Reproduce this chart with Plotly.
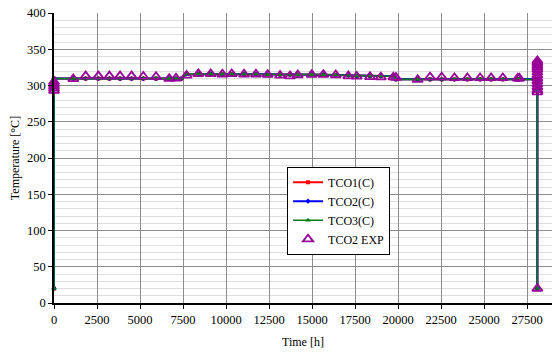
import plotly.graph_objects as go

# Simulated channel outlet temperatures (same for TCO1/TCO2/TCO3)
sim_time = [0, 0, 1120, 1840, 2580, 3220, 3840, 4510, 5190, 5930, 6700, 7090, 7400,
            7710, 8390, 9110, 9790, 10330, 11050, 11740, 12420, 13140, 13720, 14170,
            14980, 15660, 16380, 17110, 17600, 18370, 19000, 19730, 19880, 21140,
            21860, 22540, 23280, 24030, 24770, 25410, 26090, 26960, 27050, 28100, 28100]
tco1 = [20, 309.5, 309.5, 309.5, 309.5, 309.5, 309.5, 309.5, 309.5, 309.5, 309.5, 309.5, 309.5,
        316, 316, 316, 315.5, 315.5, 315.5, 315.5, 315, 315, 315, 315,
        315, 315, 314.5, 314, 313, 313, 313, 313, 308.5, 308.5,
        308.5, 308.5, 308.5, 308.5, 308.5, 308.5, 308.5, 308.5, 308.5, 308.5, 20]
tco2 = list(tco1)
tco3 = list(tco1)

# Measured TCO2
exp_time = [0, 0, 0, 0, 0, 1120, 1840, 2580, 3220, 3840, 4510, 5190, 5930, 6700, 7090,
            7710, 8390, 9110, 9790, 10330, 11050, 11740, 12420, 13140, 13720, 14170,
            14980, 15660, 16380, 17110, 17600, 18370, 19000, 19730, 19880, 21140, 21860,
            22540, 23280, 24030, 24770, 25410, 26090, 26960, 27050,
            28100, 28100, 28100, 28100, 28100, 28100, 28100, 28100, 28100, 28100, 28100,
            28100, 28100, 28100]
exp_temp = [305, 302, 299, 296, 293, 309, 313, 313, 313, 313, 313, 312.5, 312, 309.5, 310,
            314, 316, 316, 315.5, 316, 315.5, 315.5, 315, 314, 313, 314.5,
            315, 315, 314.5, 313, 312.5, 312, 311.5, 311.5, 311, 308, 311.5,
            311.5, 310.5, 310.5, 310.5, 310.5, 310.5, 310, 310,
            334, 331, 328, 325, 322, 318, 314, 310, 306, 302, 298, 294, 291, 20]

x_ticks = [0, 2500, 5000, 7500, 10000, 12500, 15000, 17500, 20000, 22500, 25000, 27500]
y_ticks = [0, 50, 100, 150, 200, 250, 300, 350, 400]

serif = "Liberation Serif, Times New Roman, serif"

fig = go.Figure()
fig.add_trace(go.Scatter(x=sim_time, y=tco1, mode="lines+markers", name="TCO1(C)",
                         line=dict(color="#ff0000", width=2), cliponaxis=False,
                         marker=dict(symbol="square", size=4, color="#ff0000")))
fig.add_trace(go.Scatter(x=sim_time, y=tco2, mode="lines+markers", name="TCO2(C)",
                         line=dict(color="#0000ff", width=2), cliponaxis=False,
                         marker=dict(symbol="diamond", size=4, color="#0000ff")))
fig.add_trace(go.Scatter(x=sim_time, y=tco3, mode="lines+markers", name="TCO3(C)",
                         line=dict(color="#007a1f", width=1.6), cliponaxis=False,
                         marker=dict(symbol="triangle-up", size=5, color="#008000")))
fig.add_trace(go.Scatter(x=exp_time, y=exp_temp, mode="markers", name="TCO2 EXP",
                         cliponaxis=False,
                         marker=dict(symbol="triangle-up-open", size=9, color="#990099",
                                     line=dict(width=1.8, color="#990099"))))

fig.update_layout(
    width=552, height=353,
    margin=dict(l=54, r=0, t=13, b=50),
    plot_bgcolor="white", paper_bgcolor="white",
    font=dict(family=serif, size=12, color="black"),
    showlegend=True,
    legend=dict(x=0.468, y=0.47, xanchor="left", yanchor="top",
                bgcolor="white", bordercolor="black", borderwidth=1,
                font=dict(family=serif, size=12, color="black"),
                tracegroupgap=0, itemwidth=30),
    xaxis=dict(range=[0, 28950], tickmode="array", tickvals=x_ticks,
               ticktext=[str(v) for v in x_ticks],
               showgrid=True, gridcolor="#8c8c8c", gridwidth=1,
               showline=True, linecolor="black", linewidth=1.5,
               ticks="outside", ticklen=4, tickcolor="black",
               zeroline=False,
               title=dict(text="Time [h]", font=dict(family=serif, size=12), standoff=12),
               tickfont=dict(family=serif, size=12.5)),
    yaxis=dict(range=[0, 400], tickmode="array", tickvals=y_ticks,
               showgrid=True, gridcolor="#8c8c8c", gridwidth=1,
               minor=dict(dtick=10, showgrid=True, gridcolor="#dedede", gridwidth=1),
               showline=True, linecolor="black", linewidth=1.5,
               ticks="outside", ticklen=4, tickcolor="black",
               zeroline=False,
               title=dict(text="Temperature [°C]", font=dict(family=serif, size=12), standoff=5),
               tickfont=dict(family=serif, size=12.5)),
)

fig.write_html("out.html")
